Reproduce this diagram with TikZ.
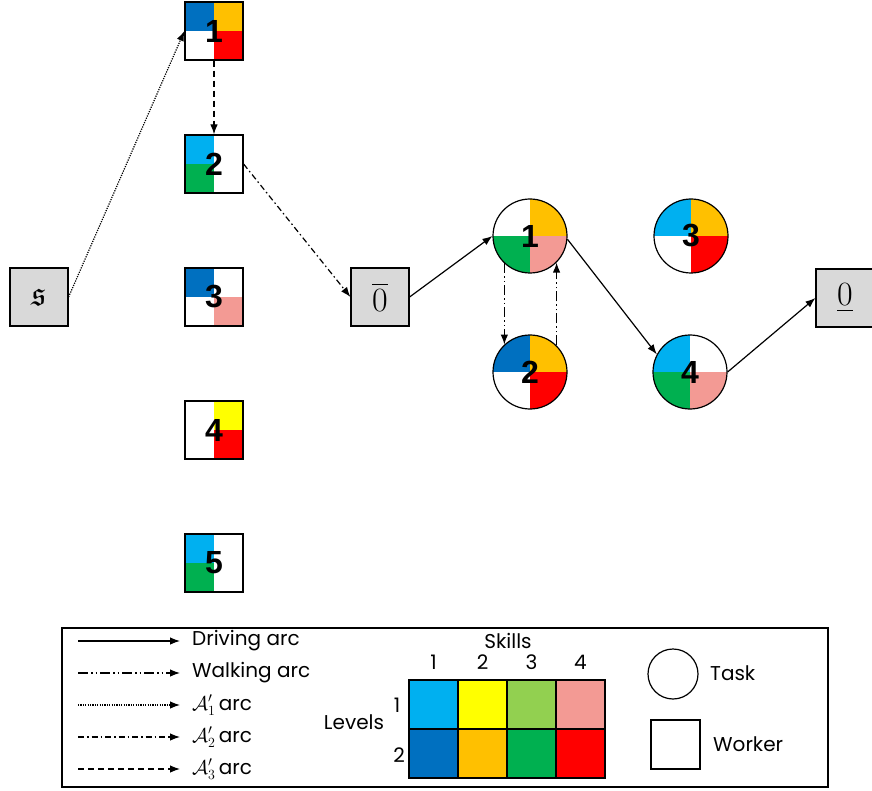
\documentclass[tikz,border=0pt]{standalone}
\usepackage{fix-cm}
\usepackage{fontspec}
\usepackage{amssymb}
\setmainfont{Poppins}
\newfontfamily\numfont{Liberation Sans}
\usetikzlibrary{arrows.meta}

\definecolor{sonea}{HTML}{00B0F0}
\definecolor{soneb}{HTML}{0070C0}
\definecolor{stwoa}{HTML}{FFFF00}
\definecolor{stwob}{HTML}{FFC000}
\definecolor{sthreea}{HTML}{92D050}
\definecolor{sthreeb}{HTML}{00B050}
\definecolor{sfoura}{HTML}{F39A94}
\definecolor{sfourb}{HTML}{FF0000}
\definecolor{spgray}{HTML}{D9D9D9}

\begin{document}
\begin{tikzpicture}[x=1pt, y=-1pt,
    quad/.style n args={4}{path picture={
        \fill[#1] (path picture bounding box.center) rectangle (path picture bounding box.north west);
        \fill[#2] (path picture bounding box.center) rectangle (path picture bounding box.north east);
        \fill[#3] (path picture bounding box.center) rectangle (path picture bounding box.south west);
        \fill[#4] (path picture bounding box.center) rectangle (path picture bounding box.south east);}},
    worker/.style={draw, line width=1.2pt, minimum size=58pt, inner sep=0pt, font=\numfont\bfseries\fontsize{32}{32}\selectfont},
    task/.style={circle, draw, line width=1.2pt, minimum size=74pt, inner sep=0pt, font=\numfont\bfseries\fontsize{32}{32}\selectfont},
    special/.style={draw, line width=1.2pt, fill=spgray, minimum size=58pt, inner sep=0pt, font=\fontsize{34}{34}\selectfont},
    arcline/.style={line width=1.2pt, -{Latex[length=10pt,width=7.5pt]}},
    driving/.style={arcline},
    walking/.style={arcline, dash pattern=on 10pt off 3pt on 1.5pt off 3pt on 1.5pt off 3pt},
    aone/.style={arcline, dash pattern=on 1.2pt off 1.2pt},
    atwo/.style={arcline, dash pattern=on 6pt off 3pt on 1.5pt off 3pt},
    athree/.style={arcline, dash pattern=on 6pt off 4pt},
    legtext/.style={font=\fontsize{20}{24}\selectfont, inner sep=0pt},
    cell/.style={draw, line width=1.5pt, minimum size=49pt, inner sep=0pt}]

    \useasboundingbox (0,0) rectangle (872,791);

    % special nodes
    \node (src) [special] at (39,297) {$\mathfrak{s}$};
    \node (zbar) [special] at (380,297) {$\overline{0}$};
    \node (zund) [special] at (845,298) {$\underline{0}$};

    % workers
    \node (w1) [worker, quad={soneb}{stwob}{white}{sfourb}] at (214,31) {1};
    \node (w2) [worker, quad={sonea}{white}{sthreeb}{white}] at (214,164) {2};
    \node (w3) [worker, quad={soneb}{white}{white}{sfoura}] at (214,297) {3};
    \node (w4) [worker, quad={white}{stwoa}{white}{sfourb}] at (214,430) {4};
    \node (w5) [worker, quad={sonea}{white}{sthreeb}{white}] at (214,563) {5};

    % tasks
    \node (t1) [task, quad={white}{stwob}{sthreeb}{sfoura}] at (530,236) {1};
    \node (t2) [task, quad={soneb}{stwob}{white}{sfourb}] at (530,372) {2};
    \node (t3) [task, quad={sonea}{stwob}{white}{sfourb}] at (691,236) {3};
    \node (t4) [task, quad={sonea}{white}{sthreeb}{sfoura}] at (690,372) {4};

    % arcs
    \draw [aone] (src.east) -- (w1.west);
    \draw [athree] (w1.south) -- (w2.north);
    \draw [atwo] (w2.east) -- (zbar.west);
    \draw [driving] (zbar.east) -- (t1.west);
    \draw [walking] (t1.-133) -- (t2.133);
    \draw [walking] (t2.45) -- (t1.-45);
    \draw [driving] (t1.-5) -- (t4.152);
    \draw [driving] (t4.east) -- (zund.west);

    % legend
    \draw [line width=1.5pt] (62,628) rectangle (828,787);
    \foreach \i/\sty/\y/\txt in {1/driving/641/{Driving arc}, 2/walking/673/{Walking arc},
        3/aone/705/{$\mathcal{A}'_1$\,arc}, 4/atwo/737/{$\mathcal{A}'_2$\,arc}, 5/athree/769/{$\mathcal{A}'_3$\,arc}} {
        \coordinate (lgs\i) at (78,\y);
        \coordinate (lge\i) at (180,\y);
        \draw [\sty] (lgs\i) -- (lge\i);
        \node (lgt\i) [legtext, anchor=west] at (192,\y) {\txt};
    }

    % skill table
    \node (skills) [legtext] at (508,641) {Skills};
    \node (levels) [legtext] at (354,722) {Levels};
    \node (lvone) [legtext] at (397,705) {1};
    \node (lvtwo) [legtext] at (399,755) {2};
    \foreach \k/\ca/\cb in {1/sonea/soneb, 2/stwoa/stwob, 3/sthreea/sthreeb, 4/sfoura/sfourb} {
        \node (sk\k) [legtext] at (384.5+49*\k,662) {\k};
        \node (ca\k) [cell, fill=\ca] at (384.5+49*\k,704.5) {};
        \node (cb\k) [cell, fill=\cb] at (384.5+49*\k,753.5) {};
    }

    \node (lgtask) [draw, circle, line width=1.2pt, minimum size=50pt, inner sep=0pt] at (673,674) {};
    \node (lgtasktxt) [legtext, anchor=west] at (710,673) {Task};
    \node (lgwork) [draw, line width=1.2pt, minimum size=49pt, inner sep=0pt] at (675.5,744.5) {};
    \node (lgworktxt) [legtext, anchor=west] at (713,744) {Worker};
\end{tikzpicture}
\end{document}
